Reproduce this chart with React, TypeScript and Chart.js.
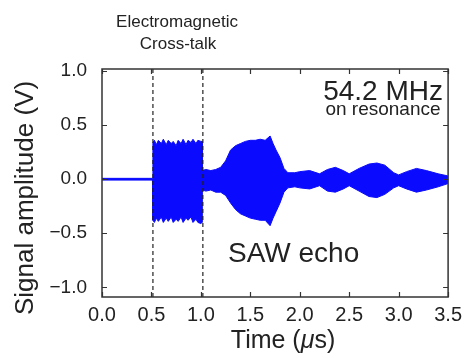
import React, { useEffect, useRef } from "react";
import { Chart, registerables } from "chart.js";

Chart.register(...registerables);

const timeUs = [
  0.0, 0.51, 0.515, 0.53, 0.55, 0.57, 0.6, 0.62, 0.65, 0.67, 0.7, 0.72, 0.75, 0.77,
  0.8, 0.82, 0.85, 0.87, 0.9, 0.92, 0.95, 0.97, 1.0, 1.012,
  1.015, 1.05, 1.1, 1.15, 1.2, 1.25, 1.3, 1.35, 1.4, 1.45, 1.5, 1.55, 1.6, 1.65,
  1.7, 1.73, 1.76, 1.8, 1.84, 1.88, 1.95, 2.0, 2.1, 2.2, 2.28, 2.36, 2.44, 2.5,
  2.6, 2.7, 2.78, 2.86, 2.95, 3.0, 3.08, 3.18, 3.28, 3.4, 3.5,
];
const upperV = [
  0.008, 0.008, 0.34, 0.36, 0.32, 0.36, 0.33, 0.37, 0.32, 0.36, 0.33, 0.35, 0.31, 0.36,
  0.33, 0.37, 0.32, 0.36, 0.34, 0.37, 0.33, 0.36, 0.35, 0.35,
  0.08, 0.09, 0.08, 0.09, 0.11, 0.17, 0.27, 0.31, 0.33, 0.35, 0.36, 0.36, 0.37, 0.36,
  0.4, 0.33, 0.27, 0.2, 0.1, 0.06, 0.06, 0.07, 0.08, 0.05, 0.09, 0.11, 0.08, 0.05,
  0.1, 0.14, 0.15, 0.13, 0.06, 0.04, 0.07, 0.1, 0.08, 0.05, 0.03,
];
const lowerV = [
  -0.008, -0.008, -0.38, -0.4, -0.36, -0.39, -0.35, -0.4, -0.36, -0.39, -0.35, -0.4, -0.37, -0.39,
  -0.35, -0.4, -0.36, -0.38, -0.35, -0.4, -0.37, -0.4, -0.41, -0.4,
  -0.1, -0.11, -0.1, -0.12, -0.12, -0.15, -0.22, -0.28, -0.32, -0.34, -0.36, -0.37, -0.38, -0.38,
  -0.43, -0.36, -0.3, -0.22, -0.12, -0.08, -0.07, -0.08, -0.09, -0.06, -0.11, -0.12, -0.09, -0.06,
  -0.11, -0.16, -0.17, -0.14, -0.08, -0.06, -0.09, -0.12, -0.1, -0.07, -0.04,
];
// Dashed markers bounding the electromagnetic cross-talk (µs)
const crossTalkBounds = [0.515, 1.02];
// Tick labels
const xTicks = [0, 0.5, 1.0, 1.5, 2.0, 2.5, 3.0, 3.5];
const yTicks = [-1.0, -0.5, 0.0, 0.5, 1.0];

const Y_MIN = -1.09;
const Y_MAX = 1.02;
const TEXT = "#222";
const BLUE = "#0a0aff";
const FONT = "'Liberation Sans', Arial, sans-serif";

const fmt = (v: number) => {
  const s = Math.abs(v).toFixed(1);
  return v < -1e-9 ? "\u2212" + s : s;
};

const framePlugin = {
  id: "frame",
  afterDraw(chart: any) {
    const { ctx, chartArea: a, scales } = chart;
    const xs = scales.x;
    const ys = scales.y;
    ctx.save();
    // inward ticks
    ctx.strokeStyle = "#333";
    ctx.lineWidth = 1.2;
    const tl = 5;
    ctx.beginPath();
    xTicks.forEach((v) => {
      const px = Math.round(xs.getPixelForValue(v)) + 0.5;
      ctx.moveTo(px, a.bottom);
      ctx.lineTo(px, a.bottom - tl);
      ctx.moveTo(px, a.top);
      ctx.lineTo(px, a.top + tl);
    });
    yTicks.forEach((v) => {
      const py = Math.round(ys.getPixelForValue(v)) + 0.5;
      ctx.moveTo(a.left, py);
      ctx.lineTo(a.left + tl, py);
      ctx.moveTo(a.right, py);
      ctx.lineTo(a.right - tl, py);
    });
    ctx.stroke();
    // frame
    ctx.strokeStyle = "#333";
    ctx.lineWidth = 1.5;
    ctx.strokeRect(a.left, a.top, a.right - a.left, a.bottom - a.top);

    ctx.fillStyle = TEXT;
    ctx.textBaseline = "alphabetic";
    // top annotation
    ctx.textAlign = "center";
    ctx.font = `17px ${FONT}`;
    ctx.fillText("Electromagnetic", 177, 27);
    ctx.fillText("Cross-talk", 178, 49);
    // frequency label
    ctx.font = `28px ${FONT}`;
    ctx.textAlign = "right";
    ctx.fillText("54.2 MHz", 443, 100);
    ctx.font = `19px ${FONT}`;
    ctx.textAlign = "center";
    ctx.fillText("on resonance", 383, 115);
    // SAW echo
    ctx.font = `28px ${FONT}`;
    ctx.textAlign = "left";
    ctx.fillText("SAW echo", 228, 262);

    // x title with italic mu
    const parts: [string, string][] = [
      ["Time (", `25px ${FONT}`],
      ["\u03bc", `italic 25px ${FONT}`],
      ["s)", `25px ${FONT}`],
    ];
    let total = 0;
    parts.forEach(([t, f]) => {
      ctx.font = f;
      total += ctx.measureText(t).width;
    });
    let x = 283 - total / 2;
    ctx.textAlign = "left";
    parts.forEach(([t, f]) => {
      ctx.font = f;
      ctx.fillText(t, x, 348);
      x += ctx.measureText(t).width;
    });

    // y title
    ctx.translate(33, 198);
    ctx.rotate(-Math.PI / 2);
    ctx.textAlign = "center";
    ctx.font = `26px ${FONT}`;
    ctx.fillText("Signal amplitude (V)", 0, 0);
    ctx.restore();
  },
};

export default function App() {
  const ref = useRef<HTMLCanvasElement | null>(null);

  useEffect(() => {
    document.body.style.margin = "0";
    const canvas = ref.current;
    if (!canvas) return;

    const upper = timeUs.map((t, i) => ({ x: t, y: upperV[i] }));
    const lower = timeUs.map((t, i) => ({ x: t, y: lowerV[i] }));
    const dashed = crossTalkBounds.map((b) => ({
      type: "line" as const,
      data: [
        { x: b, y: Y_MIN },
        { x: b, y: Y_MAX },
      ],
      borderColor: "#222",
      borderWidth: 1.2,
      borderDash: [4, 3],
      pointRadius: 0,
      fill: false,
      order: -1,
    }));

    const chart = new Chart(canvas, {
      type: "line",
      data: {
        datasets: [
          {
            data: upper,
            borderColor: BLUE,
            backgroundColor: BLUE,
            borderWidth: 1,
            pointRadius: 0,
            tension: 0,
            fill: "+1",
          },
          {
            data: lower,
            borderColor: BLUE,
            backgroundColor: BLUE,
            borderWidth: 1,
            pointRadius: 0,
            tension: 0,
            fill: false,
          },
          ...dashed,
        ] as any,
      },
      options: {
        responsive: false,
        animation: false,
        devicePixelRatio: 1,
        layout: { padding: { top: 69, right: 16, left: 0, bottom: 0 } },
        plugins: {
          legend: { display: false },
          tooltip: { enabled: false },
        },
        scales: {
          x: {
            type: "linear",
            min: 0,
            max: 3.5,
            grid: { display: false, drawTicks: false },
            border: { display: false },
            afterBuildTicks: (s: any) => {
              s.ticks = xTicks.map((v) => ({ value: v }));
            },
            afterFit: (s: any) => {
              s.height = 61;
            },
            ticks: {
              autoSkip: false,
              maxRotation: 0,
              padding: 6,
              color: TEXT,
              font: { family: FONT, size: 20 },
              callback: (v: any) => fmt(Number(v)),
            },
          },
          y: {
            type: "linear",
            min: Y_MIN,
            max: Y_MAX,
            grid: { display: false, drawTicks: false },
            border: { display: false },
            afterBuildTicks: (s: any) => {
              s.ticks = yTicks.map((v) => ({ value: v }));
            },
            afterFit: (s: any) => {
              s.width = 102;
            },
            ticks: {
              autoSkip: false,
              padding: 15,
              color: TEXT,
              font: { family: FONT, size: 19 },
              callback: (v: any) => fmt(Number(v)),
            },
          },
        },
      },
      plugins: [framePlugin],
    });

    return () => chart.destroy();
  }, []);

  return (
    <div style={{ width: 468, height: 358, background: "#fff" }}>
      <canvas ref={ref} width={468} height={358} style={{ display: "block" }} />
    </div>
  );
}
